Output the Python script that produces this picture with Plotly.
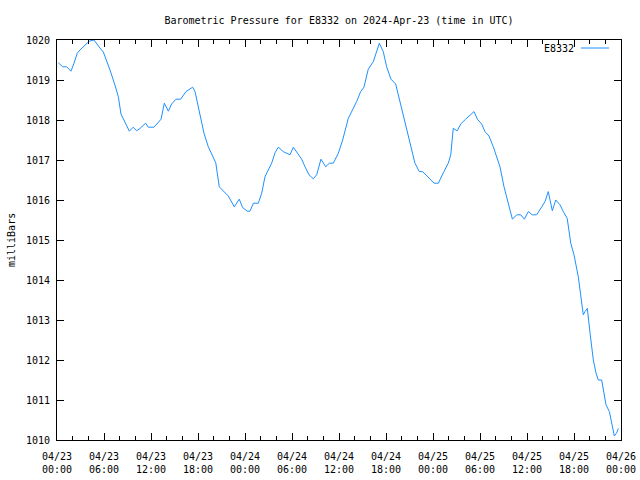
import plotly.graph_objects as go
from datetime import datetime, timedelta

times = [
    "2024-04-23 00:10", "2024-04-23 00:44", "2024-04-23 01:14", "2024-04-23 01:47",
    "2024-04-23 02:10", "2024-04-23 02:35", "2024-04-23 02:56", "2024-04-23 04:07",
    "2024-04-23 04:43", "2024-04-23 05:04", "2024-04-23 05:29", "2024-04-23 05:55",
    "2024-04-23 06:15", "2024-04-23 06:46", "2024-04-23 07:24", "2024-04-23 07:50",
    "2024-04-23 08:10", "2024-04-23 08:41", "2024-04-23 09:14", "2024-04-23 09:44",
    "2024-04-23 10:10", "2024-04-23 10:36", "2024-04-23 11:19", "2024-04-23 11:39",
    "2024-04-23 12:23", "2024-04-23 13:17", "2024-04-23 13:42", "2024-04-23 14:13",
    "2024-04-23 14:38", "2024-04-23 15:11", "2024-04-23 15:47", "2024-04-23 16:28",
    "2024-04-23 17:19", "2024-04-23 17:37", "2024-04-23 18:10", "2024-04-23 18:46",
    "2024-04-23 19:19", "2024-04-23 19:57", "2024-04-23 20:16", "2024-04-23 20:43",
    "2024-04-23 21:14", "2024-04-23 21:52", "2024-04-23 22:38", "2024-04-23 23:16",
    "2024-04-23 23:42", "2024-04-24 00:18", "2024-04-24 00:38", "2024-04-24 01:04",
    "2024-04-24 01:42", "2024-04-24 02:08", "2024-04-24 02:33", "2024-04-24 02:58",
    "2024-04-24 03:24", "2024-04-24 03:50", "2024-04-24 04:15", "2024-04-24 04:53",
    "2024-04-24 05:45", "2024-04-24 06:10", "2024-04-24 06:41", "2024-04-24 07:14",
    "2024-04-24 07:40", "2024-04-24 08:10", "2024-04-24 08:43", "2024-04-24 09:09",
    "2024-04-24 09:42", "2024-04-24 10:18", "2024-04-24 10:46", "2024-04-24 11:16",
    "2024-04-24 11:55", "2024-04-24 12:28", "2024-04-24 13:11", "2024-04-24 14:15",
    "2024-04-24 14:46", "2024-04-24 15:11", "2024-04-24 15:44", "2024-04-24 16:23",
    "2024-04-24 17:09", "2024-04-24 17:39", "2024-04-24 18:05", "2024-04-24 18:38",
    "2024-04-24 19:14", "2024-04-24 19:47", "2024-04-24 20:26", "2024-04-24 21:04",
    "2024-04-24 21:42", "2024-04-24 22:15", "2024-04-24 22:41", "2024-04-25 00:08",
    "2024-04-25 00:41", "2024-04-25 01:19", "2024-04-25 01:57", "2024-04-25 02:16",
    "2024-04-25 02:35", "2024-04-25 03:06", "2024-04-25 03:32", "2024-04-25 04:10",
    "2024-04-25 04:43", "2024-04-25 05:14", "2024-04-25 05:40", "2024-04-25 06:13",
    "2024-04-25 06:38", "2024-04-25 07:09", "2024-04-25 07:42", "2024-04-25 08:33",
    "2024-04-25 09:04", "2024-04-25 09:37", "2024-04-25 10:08", "2024-04-25 10:41",
    "2024-04-25 11:12", "2024-04-25 11:40", "2024-04-25 12:10", "2024-04-25 12:41",
    "2024-04-25 13:14", "2024-04-25 13:53", "2024-04-25 14:18", "2024-04-25 14:43",
    "2024-04-25 15:14", "2024-04-25 15:40", "2024-04-25 16:13", "2024-04-25 16:38",
    "2024-04-25 17:08", "2024-04-25 17:35", "2024-04-25 18:00", "2024-04-25 18:33",
    "2024-04-25 18:53", "2024-04-25 19:11", "2024-04-25 19:24", "2024-04-25 19:42",
    "2024-04-25 20:03", "2024-04-25 20:28", "2024-04-25 20:49", "2024-04-25 21:06",
    "2024-04-25 21:32", "2024-04-25 22:05", "2024-04-25 22:31", "2024-04-25 22:56",
    "2024-04-25 23:09", "2024-04-25 23:27", "2024-04-25 23:40",
]
pressure = [
    1019.43, 1019.33, 1019.33, 1019.22, 1019.42, 1019.67, 1019.75, 1019.97,
    1020.00, 1019.90, 1019.80, 1019.70, 1019.54, 1019.25, 1018.87, 1018.58,
    1018.15, 1017.92, 1017.72, 1017.82, 1017.73, 1017.79, 1017.92, 1017.82,
    1017.82, 1018.02, 1018.42, 1018.22, 1018.40, 1018.52, 1018.52, 1018.71,
    1018.82, 1018.71, 1018.25, 1017.67, 1017.33, 1017.06, 1016.93, 1016.33,
    1016.23, 1016.10, 1015.83, 1016.02, 1015.81, 1015.72, 1015.72, 1015.92,
    1015.92, 1016.17, 1016.58, 1016.75, 1016.92, 1017.18, 1017.32, 1017.21,
    1017.13, 1017.32, 1017.18, 1017.02, 1016.83, 1016.63, 1016.53, 1016.63,
    1017.02, 1016.83, 1016.92, 1016.92, 1017.17, 1017.50, 1018.04, 1018.46,
    1018.71, 1018.82, 1019.27, 1019.46, 1019.92, 1019.71, 1019.33, 1019.02,
    1018.90, 1018.46, 1017.96, 1017.46, 1016.92, 1016.71, 1016.71, 1016.42,
    1016.42, 1016.68, 1016.92, 1017.13, 1017.79, 1017.73, 1017.90, 1018.02,
    1018.13, 1018.21, 1018.02, 1017.90, 1017.71, 1017.60, 1017.33, 1016.83,
    1016.33, 1015.92, 1015.52, 1015.63, 1015.63, 1015.52, 1015.71, 1015.63,
    1015.63, 1015.83, 1015.96, 1016.21, 1015.73, 1016.00, 1015.88, 1015.71,
    1015.54, 1014.92, 1014.63, 1014.08, 1013.58, 1013.13, 1013.21, 1013.29,
    1012.67, 1012.00, 1011.67, 1011.50, 1011.50, 1010.88, 1010.71, 1010.33,
    1010.10, 1010.18, 1010.29,
]

series_name = "E8332"
title_text = "Barometric Pressure for E8332 on 2024-Apr-23 (time in UTC)"
y_title = "milliBars"
y_ticks = [1010, 1011, 1012, 1013, 1014, 1015, 1016, 1017, 1018, 1019, 1020]

start = datetime(2024, 4, 23, 0, 0)
x_tickvals = [start + timedelta(hours=6 * i) for i in range(13)]
x_ticktext = [t.strftime("%m/%d") + "<br>" + t.strftime("%H:%M") for t in x_tickvals]

FONT = "DejaVu Sans Mono"
LINE_COLOR = "#1e90ff"

fig = go.Figure()
fig.add_trace(go.Scatter(
    x=times, y=pressure, mode="lines", name=series_name,
    line=dict(color=LINE_COLOR, width=1), showlegend=False,
))

fig.update_layout(
    width=640, height=480,
    margin=dict(l=57, r=19, t=40, b=40, autoexpand=False),
    paper_bgcolor="white", plot_bgcolor="white",
    font=dict(family=FONT, size=10, color="black"),
    title=dict(text=title_text, x=339 / 640, xanchor="center",
               y=1 - 20 / 480, yanchor="middle",
               font=dict(family=FONT, size=10, color="black")),
    xaxis=dict(
        type="date", automargin=False,
        range=[start, start + timedelta(hours=72)],
        tickmode="array", tickvals=x_tickvals, ticktext=x_ticktext,
        ticks="inside", ticklen=7, tickwidth=1, tickcolor="black",
        minor=dict(dtick=2 * 3600 * 1000, tick0="2024-04-23", ticks="inside",
                   ticklen=4, tickcolor="black", showgrid=False),
        showline=True, linecolor="black", linewidth=1, mirror="allticks",
        showgrid=False, zeroline=False,
        tickfont=dict(family=FONT, size=10, color="black"),
        ticklabelstandoff=7,
    ),
    yaxis=dict(
        range=[1010, 1020], automargin=False,
        tickmode="array", tickvals=y_ticks, ticktext=[str(v) for v in y_ticks],
        ticks="inside", ticklen=7, tickwidth=1, tickcolor="black",
        showline=True, linecolor="black", linewidth=1, mirror="allticks",
        showgrid=False, zeroline=False,
        tickfont=dict(family=FONT, size=10, color="black"),
        ticklabelstandoff=4,
    ),
)

# y-axis title
fig.add_annotation(text=y_title, xref="paper", yref="paper",
                   x=(11 - 57) / 564, y=0.5, textangle=-90, showarrow=False,
                   xanchor="center", yanchor="middle",
                   font=dict(family=FONT, size=10, color="black"))

# gnuplot-style legend: text then line sample
fig.add_annotation(text=series_name, xref="paper", yref="paper",
                   x=(576 - 57) / 564, y=1 - (49 - 40) / 400, showarrow=False,
                   xanchor="right", yanchor="middle",
                   font=dict(family=FONT, size=10, color="black"))
fig.add_shape(type="line", xref="paper", yref="paper",
              x0=(581 - 57) / 564, x1=(609 - 57) / 564,
              y0=1 - (48 - 40) / 400, y1=1 - (48 - 40) / 400,
              line=dict(color=LINE_COLOR, width=1))

fig.write_html("out.html")
